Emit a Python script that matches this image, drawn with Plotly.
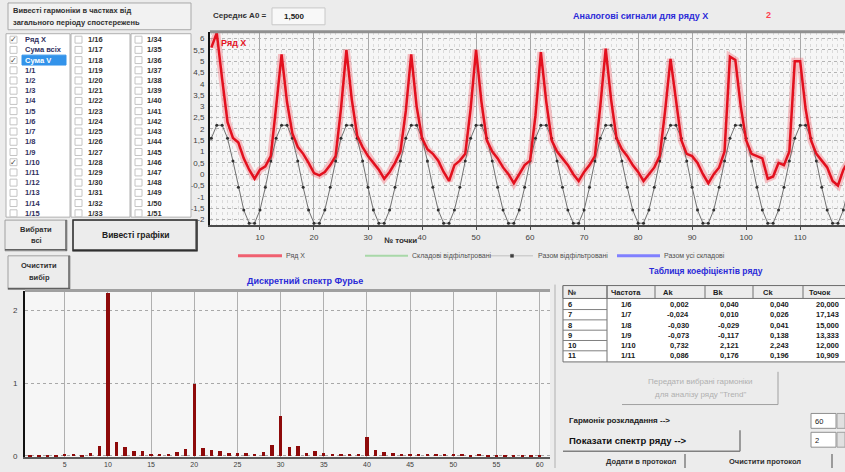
import plotly.graph_objects as go

# ---------------- data ----------------
point_no = list(range(1, 121))
series_x = [
    5.6, 6.25, 4.2, 2.3, 1.6, 1.4, 0.7, 0.2, -0.2, 0.2, 0.35, 0.8,
    3.0, 5.3, 3.2, 1.8, 1.2, 0.9, 0.5, 0.05, -0.05, 0.1, 0.4, 0.8,
    2.9, 5.5, 3.3, 1.7, 1.2, 0.8, 0.5, 0.2, -0.2, 0.1, 0.5, 1.0,
    2.8, 5.3, 3.0, 1.6, 1.1, 0.9, 0.6, 0.1, -0.3, 0.4, 0.6, 0.9,
    2.9, 5.5, 3.2, 1.5, 1.0, 0.7, 0.3, 0.0, -0.4, 0.0, 0.4, 0.6,
    2.6, 5.4, 3.2, 1.5, 1.0, 0.7, 0.4, 0.0, -0.3, 0.1, 0.4, 0.8,
    3.0, 5.55, 3.3, 1.6, 1.1, 0.8, 0.4, 0.1, -0.3, 0.0, 0.3, 0.8,
    2.8, 5.1, 3.2, 1.5, 0.9, 0.8, 0.5, 0.0, -0.4, 0.0, 0.3, 1.0,
    5.2, 5.05, 3.0, 1.5, 0.9, 0.8, 0.7, -0.2, -0.1, 0.5, 0.4, 1.0,
    5.0, 5.0, 2.9, 1.5, 0.9, 0.6, 0.3, -0.3, -0.5, 0.2, 0.6, 1.2,
]
filtered_sum = [
    1.586, 2.167, 2.167, 1.586, 0.581, -0.581, -1.586, -2.167, -2.167, -1.586, -0.581, 0.581,
    1.586, 2.167, 2.167, 1.586, 0.581, -0.581, -1.586, -2.167, -2.167, -1.586, -0.581, 0.581,
    1.586, 2.167, 2.167, 1.586, 0.581, -0.581, -1.586, -2.167, -2.167, -1.586, -0.581, 0.581,
    1.586, 2.167, 2.167, 1.586, 0.581, -0.581, -1.586, -2.167, -2.167, -1.586, -0.581, 0.581,
    1.586, 2.167, 2.167, 1.586, 0.581, -0.581, -1.586, -2.167, -2.167, -1.586, -0.581, 0.581,
    1.586, 2.167, 2.167, 1.586, 0.581, -0.581, -1.586, -2.167, -2.167, -1.586, -0.581, 0.581,
    1.586, 2.167, 2.167, 1.586, 0.581, -0.581, -1.586, -2.167, -2.167, -1.586, -0.581, 0.581,
    1.586, 2.167, 2.167, 1.586, 0.581, -0.581, -1.586, -2.167, -2.167, -1.586, -0.581, 0.581,
    1.586, 2.167, 2.167, 1.586, 0.581, -0.581, -1.586, -2.167, -2.167, -1.586, -0.581, 0.581,
    1.586, 2.167, 2.167, 1.586, 0.581, -0.581, -1.586, -2.167, -2.167, -1.586, -0.581, 0.581,
]
harmonic_no = list(range(1, 61))
spectrum_ck = [
    0.01, 0.01, 0.01, 0.01, 0.03, 0.040, 0.026, 0.041, 0.138, 2.243,
    0.196, 0.13, 0.07, 0.07, 0.03, 0.03, 0.03, 0.06, 0.10, 1.00,
    0.12, 0.09, 0.07, 0.05, 0.05, 0.05, 0.04, 0.06, 0.16, 0.55,
    0.13, 0.14, 0.05, 0.08, 0.05, 0.03, 0.03, 0.03, 0.04, 0.27,
    0.09, 0.06, 0.05, 0.04, 0.03, 0.03, 0.03, 0.03, 0.03, 0.03,
    0.03, 0.02, 0.03, 0.02, 0.02, 0.02, 0.02, 0.02, 0.02, 0.02,
]

top_x_ticks = [10, 20, 30, 40, 50, 60, 70, 80, 90, 100, 110]
top_y_ticks = [-2, -1.5, -1, -0.5, 0, 0.5, 1, 1.5, 2, 2.5, 3, 3.5, 4, 4.5, 5, 5.5, 6]
top_y_labels = ["-2", "-1,5", "-1", "-0,5", "0", "0,5", "1", "1,5", "2", "2,5",
                "3", "3,5", "4", "4,5", "5", "5,5", "6"]
bot_x_ticks = [5, 10, 15, 20, 25, 30, 35, 40, 45, 50, 55, 60]
bot_y_ticks = [0, 1, 2]

list_col1 = ["Ряд X", "Сума всіх", "Сума V", "1/1", "1/2", "1/3", "1/4", "1/5", "1/6",
             "1/7", "1/8", "1/9", "1/10", "1/11", "1/12", "1/13", "1/14", "1/15"]
list_col2 = ["1/16", "1/17", "1/18", "1/19", "1/20", "1/21", "1/22", "1/23", "1/24",
             "1/25", "1/26", "1/27", "1/28", "1/29", "1/30", "1/31", "1/32", "1/33"]
list_col3 = ["1/34", "1/35", "1/36", "1/37", "1/38", "1/39", "1/40", "1/41", "1/42",
             "1/43", "1/44", "1/45", "1/46", "1/47", "1/48", "1/49", "1/50", "1/51"]
checked_col1 = ["Ряд X", "Сума V", "1/10"]

table_header = ["№", "Частота", "Ak", "Bk", "Ck", "Точок"]
table_rows = [
    ["6", "1/6", "0,002", "0,040", "0,040", "20,000"],
    ["7", "1/7", "-0,024", "0,010", "0,026", "17,143"],
    ["8", "1/8", "-0,030", "-0,029", "0,041", "15,000"],
    ["9", "1/9", "-0,073", "-0,117", "0,138", "13,333"],
    ["10", "1/10", "0,732", "2,121", "2,243", "12,000"],
    ["11", "1/11", "0,086", "0,176", "0,196", "10,909"],
]

# ---------------- helpers ----------------
W, H = 845, 472
FONT = "Liberation Sans"


def px(x):
    return x / W


def py(y):
    return 1 - y / H


shapes = []
anns = []


def txt(x, y, s, size=8, color="#222", bold=True, anchor="left"):
    anns.append(dict(x=px(x), y=py(y), xref="paper", yref="paper",
                     text=f"<b>{s}</b>" if bold else s, showarrow=False,
                     xanchor=anchor, yanchor="middle", borderpad=0,
                     font=dict(size=size, color=color, family=FONT)))


def rect(x0, y0, x1, y1, fill="rgba(0,0,0,0)", line="#909090", w=1):
    shapes.append(dict(type="rect", xref="paper", yref="paper",
                       x0=px(x0), x1=px(x1), y0=py(y1), y1=py(y0),
                       fillcolor=fill, line=dict(color=line, width=w), layer="above"))


def hline(x0, x1, y, color="#909090", w=1, dash="solid"):
    shapes.append(dict(type="line", xref="paper", yref="paper",
                       x0=px(x0), x1=px(x1), y0=py(y), y1=py(y),
                       line=dict(color=color, width=w, dash=dash), layer="above"))


def vline(x, y0, y1, color="#909090", w=1):
    shapes.append(dict(type="line", xref="paper", yref="paper",
                       x0=px(x), x1=px(x), y0=py(y0), y1=py(y1),
                       line=dict(color=color, width=w), layer="above"))


def button(x0, y0, x1, y1, default=False):
    rect(x0, y0, x1, y1, fill="#ececec", line="#a0a0a0", w=1)
    hline(x0, x1, y1 - 1, color="#606060", w=1.5)
    vline(x1 - 1, y0, y1, color="#606060", w=1.5)
    if default:
        rect(x0, y0, x1, y1, line="#303030", w=1.5)


# ---------------- figure ----------------
fig = go.Figure()

# top chart
fig.add_trace(go.Scatter(x=point_no, y=series_x, mode="lines", xaxis="x", yaxis="y",
                         line=dict(color="rgba(240,90,100,0.35)", width=7), hoverinfo="skip"))
fig.add_trace(go.Scatter(x=point_no, y=filtered_sum, mode="lines+markers", xaxis="x", yaxis="y",
                         line=dict(color="#707070", width=1),
                         marker=dict(color="#303030", size=3), hoverinfo="skip"))
fig.add_trace(go.Scatter(x=point_no, y=series_x, mode="lines", xaxis="x", yaxis="y",
                         line=dict(color="#e3101e", width=2.5), hoverinfo="skip"))

# bottom chart
fig.add_trace(go.Bar(x=harmonic_no, y=spectrum_ck, xaxis="x2", yaxis="y2", width=0.4,
                     marker=dict(color="#8e0a0a", line=dict(width=0)), hoverinfo="skip"))

tick_font = dict(size=8, color="#404040", family=FONT)

fig.update_layout(
    width=W, height=H, margin=dict(l=0, r=0, t=0, b=0),
    paper_bgcolor="#ececec", plot_bgcolor="#f6f6f6",
    showlegend=False, bargap=0,
    xaxis=dict(domain=[px(210), 1.0], range=[0.75, 118.3], anchor="y",
               tickvals=top_x_ticks, tickfont=tick_font,
               showgrid=True, gridcolor="#a8a8a8", gridwidth=1,
               minor=dict(dtick=1, tick0=0, showgrid=True, gridcolor="#dadada", griddash="dot"),
               showline=True, linecolor="#4a4a4a", linewidth=2,
               ticks="outside", ticklen=3, tickcolor="#4a4a4a", zeroline=False),
    yaxis=dict(domain=[py(227), py(32)], range=[-2.25, 6.3], anchor="x",
               tickvals=top_y_ticks, ticktext=top_y_labels, tickfont=tick_font,
               showgrid=True, gridcolor="#b4b4b4", griddash="dot", gridwidth=1,
               showline=True, linecolor="#111111", linewidth=2, zeroline=False,
               ticks="", ticklabelstandoff=2),
    xaxis2=dict(domain=[px(25), px(550)], range=[0.4, 61.2], anchor="y2",
                tickvals=bot_x_ticks, tickfont=dict(size=7, color="#404040", family=FONT),
                showgrid=True, gridcolor="#b0b0b0", gridwidth=1,
                showline=True, linecolor="#5a5a5a", linewidth=2, zeroline=False,
                ticks="", ticklabelstandoff=0),
    yaxis2=dict(domain=[py(461), py(293)], range=[-0.015, 2.27], anchor="x2",
                tickvals=bot_y_ticks, tickfont=tick_font,
                showgrid=True, gridcolor="#a8a8a8", griddash="dot", gridwidth=1,
                showline=True, linecolor="#111111", linewidth=2, zeroline=False,
                ticks="", ticklabelstandoff=4),
)

# ---- top chart decorations ----
hline(210, 845, 32, color="#909090", w=3)
txt(220, 43, "Ряд X", size=9, color="#e3101e")
txt(212, 16, "Середнє А0 =", size=8, color="#303030")
rect(272, 8, 325, 25, fill="#f8f8f8", line="#c8c8c8")
txt(283, 17, "1,500", size=8, color="#202020")
txt(640, 16, "Аналогові сигнали для ряду X", size=9, color="#2a2ad8", anchor="center")
txt(768, 15, "2", size=9, color="#ff4050", anchor="center")
txt(400, 243, "№ точки", size=8, color="#303030", anchor="center")

# legend row
hline(238, 282, 258, color="#f06070", w=3)
txt(285, 258, "Ряд X", size=7, color="#505050", bold=False)
hline(365, 408, 258, color="#a8d8a8", w=2)
txt(411, 258, "Складові відфільтровані", size=7, color="#505050", bold=False)
hline(490, 533, 258, color="#c0c0c0", w=1)
rect(510.5, 256.5, 513.5, 259.5, fill="#404040", line="#404040", w=0.5)
txt(537, 258, "Разом відфільтровані", size=7, color="#505050", bold=False)
hline(617, 660, 258, color="#8080ff", w=3)
txt(663, 258, "Разом усі складові", size=7, color="#505050", bold=False)

# ---- left panel ----
rect(8, 3, 191, 30, fill="#f2f2f2", line="#a8a8a8")
txt(12, 11, "Вивесті гармоніки в частках від", size=7.5, color="#303030")
txt(12, 23, "загального періоду спостережень", size=7.5, color="#303030")

rect(6, 34, 70, 219, fill="#ffffff", line="#b0b0b0")
rect(71, 34, 130, 219, fill="#ffffff", line="#b0b0b0")
rect(131, 34, 191, 219, fill="#ffffff", line="#b0b0b0")
row0, drow = 40, 10.3
for i, (a, b, c) in enumerate(zip(list_col1, list_col2, list_col3)):
    y = row0 + i * drow
    for cx in (10, 75, 135):
        rect(cx, y - 3.5, cx + 7, y + 3.5, fill="#ffffff", line="#c4c4c4")
    if a == "Сума V":
        rect(22, y - 5, 66, y + 5, fill="#3393ea", line="#3393ea")
        txt(24, y, a, size=7.5, color="#ffffff")
    else:
        txt(24, y, a, size=7.5, color="#303060")
    txt(87, y, b, size=7.5, color="#303030")
    txt(146, y, c, size=7.5, color="#303030")
    if a in checked_col1:
        txt(13.5, y, "✓", size=8, color="#404040", bold=False, anchor="center")

button(5, 222, 67, 253)
txt(36, 231, "Вибрати", size=7.5, color="#303030", anchor="center")
txt(36, 243, "всі", size=7.5, color="#303030", anchor="center")
button(73, 222, 197, 253, default=True)
txt(135, 237, "Вивесті графіки", size=8.5, color="#202020", anchor="center")
button(8, 258, 70, 292)
txt(39, 268, "Очистити", size=7.5, color="#303030", anchor="center")
txt(39, 280, "вибір", size=7.5, color="#303030", anchor="center")

# ---- bottom chart decorations ----
hline(25, 550, 293, color="#a0a0a0", w=3)
txt(305, 283, "Дискретний спектр Фурье", size=9, color="#2a2ad8", anchor="center")
vline(555, 287, 472, color="#b0b0b0", w=1)

# ---- right panel: table ----
txt(706, 273, "Таблиця коефіцієнтів ряду", size=8.5, color="#2a2ad8", anchor="center")
tx0, tx1, ty0, ty1 = 563, 845, 288, 365
rect(tx0, ty0, tx1 + 5, ty1, fill="#ffffff", line="#707070")
rect(tx0, ty0, tx1 + 5, 301, fill="#ececec", line="#707070")
col_sep = [607, 655, 705, 753, 803]
for cx in col_sep:
    vline(cx, ty0, 301, color="#707070")
vline(607, ty0, ty1, color="#707070")
head_x = [567, 610, 662, 712, 762, 808]
for hx, h in zip(head_x, table_header):
    txt(hx, 295, h, size=7.5, color="#202020")
row_y0, row_dy = 307, 10.4
cell_x = [567, 620, 690, 740, 790, 840]
cell_anchor = ["left", "left", "right", "right", "right", "right"]
for r, row in enumerate(table_rows):
    y = row_y0 + r * row_dy
    if r < len(table_rows) - 1:
        hline(tx0, 607, y + 5.2, color="#808080")
    for cx, an, v in zip(cell_x, cell_anchor, row):
        txt(cx, y, v, size=7.5, color="#202020", anchor=an)

# disabled transfer button
hline(622, 778, 408, color="#a0a0a0", w=1)
vline(778, 375, 408, color="#a0a0a0", w=1)
txt(700, 385, "Передати вибрані гармоніки", size=8, color="#b0b0b0", anchor="center", bold=False)
txt(700, 398, "для аналізу ряду \"Trend\"", size=8, color="#b0b0b0", anchor="center", bold=False)

txt(568, 424, "Гармонік розкладання -->", size=8, color="#202020")
rect(811, 417, 836, 432, fill="#ffffff", line="#909090")
txt(814, 425, "60", size=7.5, color="#202020", bold=False)
rect(811, 436, 836, 451, fill="#ffffff", line="#909090")
txt(814, 444, "2", size=7.5, color="#202020", bold=False)
rect(837, 417, 845, 432, fill="#e0e0e0", line="#a0a0a0")
rect(837, 436, 845, 451, fill="#e0e0e0", line="#a0a0a0")

hline(563, 740, 455, color="#808080", w=1.5)
vline(740, 434, 455, color="#808080", w=1.5)
txt(568, 444, "Показати спектр ряду -->", size=9.5, color="#101010")

vline(685, 458, 472, color="#808080", w=1.5)
txt(641, 465, "Додати в протокол", size=7.5, color="#303030", anchor="center")
vline(832, 458, 472, color="#808080", w=1.5)
txt(765, 465, "Очистити протокол", size=7.5, color="#303030", anchor="center")

fig.update_layout(shapes=shapes, annotations=anns)

fig.write_html("out.html", config={"displayModeBar": False},
               post_script="document.body.style.margin='0px';document.body.style.overflow='hidden';")
